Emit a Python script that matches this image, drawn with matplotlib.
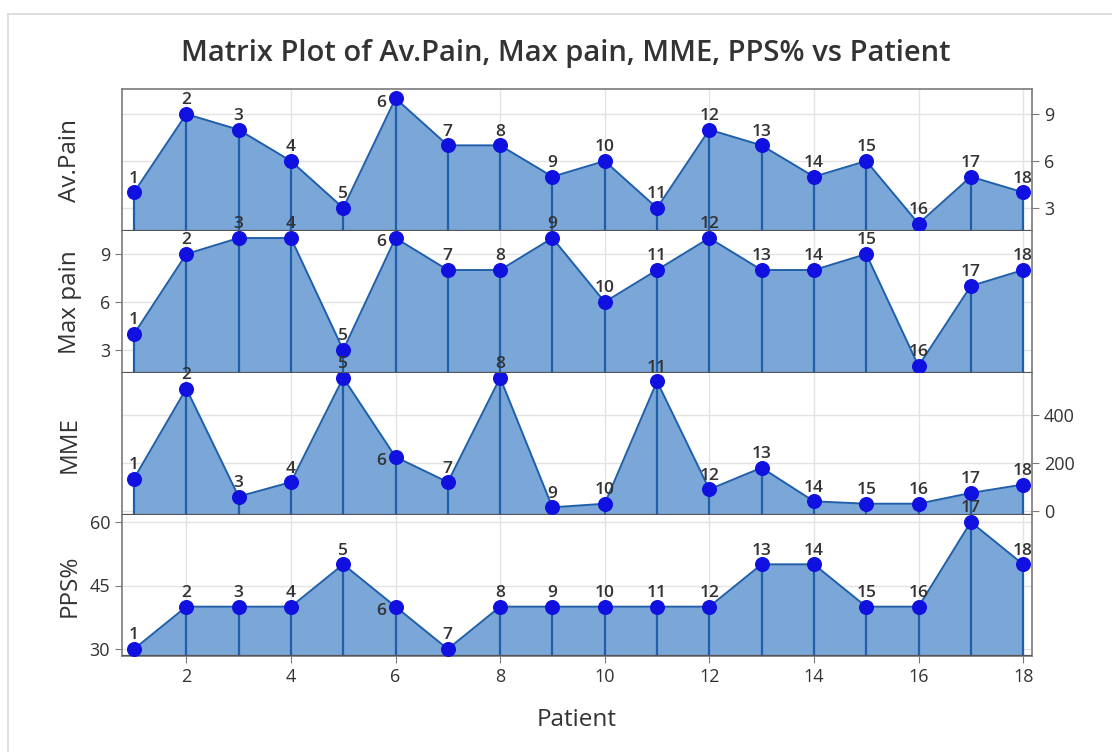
import matplotlib.pyplot as plt
from matplotlib.lines import Line2D

plt.rcParams['font.family'] = ['Open Sans', 'DejaVu Sans']

# ---- data ----
patients = list(range(1, 19))
av_pain = [4, 9, 8, 6, 3, 10, 7, 7, 5, 6, 3, 8, 7, 5, 6, 2, 5, 4]
max_pain = [4, 9, 10, 10, 3, 10, 8, 8, 10, 6, 8, 10, 8, 8, 9, 2, 7, 8]
mme = [135, 510, 60, 120, 555, 225, 120, 555, 15, 30, 540, 90, 180, 40, 30, 30, 75, 110]
pps = [30, 40, 40, 40, 50, 40, 30, 40, 40, 40, 40, 40, 50, 50, 40, 40, 60, 50]

panels = [
    ("Av.Pain", av_pain, (1.53, 10.6), [3, 6, 9], "right"),
    ("Max pain", max_pain, (1.56, 10.44), [3, 6, 9], "left"),
    ("MME", mme, (-17, 575), [0, 200, 400], "right"),
    ("PPS%", pps, (28.35, 61.65), [30, 45, 60], "left"),
]

FILL = "#7BA6D8"
LINE = "#1F5FAA"
MARK = "#1010E0"
TXT = "#333333"
SPINE = "#7a7a7a"

W, H = 1112, 752
fig = plt.figure(figsize=(W / 100, H / 100), dpi=100)

# outer frame (left/top)
fig.add_artist(Line2D([8 / W, 8 / W], [0, 1 - 14 / H], color="#d9d9d9", lw=1.2))
fig.add_artist(Line2D([8 / W, 1], [1 - 14 / H, 1 - 14 / H], color="#d9d9d9", lw=1.2))

left, right = 122 / W, 1032 / W
bounds = [(89, 231), (231, 373), (373, 515), (515, 656)]

axes = []
for i, ((name, vals, ylim, yticks, side), (top, bot)) in enumerate(zip(panels, bounds)):
    ax = fig.add_axes([left, 1 - bot / H, right - left, (bot - top) / H])
    axes.append(ax)
    ax.set_xlim(0.77, 18.17)
    ax.set_ylim(*ylim)
    ax.set_xticks(range(2, 19, 2))
    ax.set_yticks(yticks)
    ax.grid(True, color="#e3e3e3", lw=1.0, zorder=0)
    ax.set_axisbelow(True)

    ax.fill_between(patients, vals, ylim[0], color=FILL, lw=0, zorder=2)
    ax.vlines(patients, ylim[0], vals, color=LINE, lw=1.6, zorder=3)
    ax.plot(patients, vals, color=LINE, lw=1.4, zorder=4)
    ax.plot(patients, vals, "o", color=MARK, ms=9.8, zorder=5)
    ax.axhline(ylim[0], color="#555555", lw=1.6, zorder=4)

    for p, v in zip(patients, vals):
        if p == 6:
            ax.annotate(str(p), (p, v), xytext=(-7, -3), textcoords="offset points",
                        ha="right", va="center", fontsize=12.5, fontweight="semibold",
                        color=TXT, zorder=6, annotation_clip=False)
        else:
            ax.annotate(str(p), (p, v), xytext=(0, 4), textcoords="offset points",
                        ha="center", va="bottom", fontsize=12.5, fontweight="semibold",
                        color=TXT, zorder=6, annotation_clip=False)

    for s in ax.spines.values():
        s.set_color(SPINE)
        s.set_linewidth(1.2)
    ax.spines["top"].set_visible(i == 0)

    if side == "right":
        ax.yaxis.tick_right()
    ax.tick_params(axis="y", colors=SPINE, labelcolor=TXT, labelsize=13, length=5)
    if i < 3:
        ax.tick_params(axis="x", bottom=False, labelbottom=False)
    else:
        ax.tick_params(axis="x", colors=SPINE, labelcolor=TXT, labelsize=13, length=5)

    ax.set_ylabel(name, fontsize=17.5, color=TXT, va="center")
    ax.yaxis.set_label_position("left")
    ax.yaxis.set_label_coords(-40 / 910, 0.5)

axes[-1].set_xlabel("Patient", fontsize=17.5, color=TXT, labelpad=16)

fig.text(566 / W, 1 - 54 / H, "Matrix Plot of Av.Pain, Max pain, MME, PPS% vs Patient",
         ha="center", va="center", fontsize=21, fontweight="semibold", color=TXT)

fig.savefig("out.png", dpi=100)
